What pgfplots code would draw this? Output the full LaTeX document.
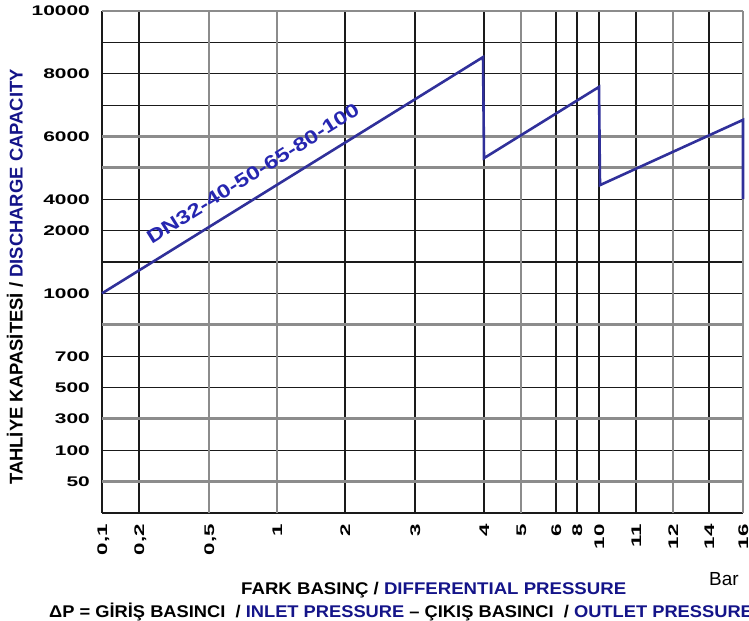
\documentclass[border=0pt]{standalone}
\usepackage{pgfplots}
\pgfplotsset{compat=1.18}
\usepackage{fontspec}
\setmainfont{Liberation Sans}
\definecolor{navy}{HTML}{141489}
\definecolor{dnblue}{HTML}{2626B0}
\definecolor{curve}{HTML}{30309A}
\definecolor{gridgray}{HTML}{8C8C8C}
\definecolor{gridblack}{HTML}{1A1A1A}
% wide tick digits as in the scan
\newcommand\yl[1]{\scalebox{1.5}[1]{#1}}
\newcommand\xl[1]{\scalebox{1.6}[1]{#1}}
\begin{document}
\begin{tikzpicture}[x=1bp,y=1bp]
\begin{axis}[
  at={(102bp,108bp)}, anchor=south west,
  scale only axis, width=641bp, height=502bp,
  xmin=0, xmax=641, ymin=0, ymax=16,
  clip=false,
  axis line style={draw=none},
  major tick length=0pt,
  grid=major,
  major grid style={gridblack, line width=1.2bp},
  tick label style={font=\fontsize{14}{14}\selectfont\bfseries},
  % x = position along the (non-uniform) pressure scale
  xtick={0,37,243,313,382,454,475,497,534,607},
  xticklabels={\xl{0{,}1},\xl{0{,}2},\xl{2},\xl{3},\xl{4},\xl{6},\xl{8},\xl{10},\xl{11},\xl{14}},
  extra x ticks={107,175,419,571,641},
  extra x tick labels={\xl{0{,}5},\xl{1},\xl{5},\xl{12},\xl{16}},
  extra x tick style={grid=major, major grid style={gridgray, line width=2.8bp}},
  xticklabel style={rotate=90, anchor=east, inner xsep=11bp, text height=10bp, text depth=0bp},
  % y = grid row of the capacity scale
  ytick={0,2,4,5,7,8,9,10,13,14,15},
  yticklabels={,\yl{100},\yl{500},\yl{700},\yl{1000},,\yl{2000},\yl{4000},,\yl{8000},},
  extra y ticks={1,3,6,11,12,16},
  extra y tick labels={\yl{50},\yl{300},,,\yl{6000},\yl{10000}},
  extra y tick style={grid=major, major grid style={gridgray, line width=2.8bp}},
  yticklabel style={anchor=east, inner xsep=12bp, text height=10bp, text depth=0bp},
]
\addplot[curve, line width=2.6bp, mark=none] coordinates {
  (0,7.0) (381,14.53) (382,11.31) (497,13.58) (498,10.45) (641,12.53) (641,10.0)};
\end{axis}
\node[rotate=32, text=dnblue, inner sep=0pt, font=\fontsize{19}{19}\selectfont\bfseries]
  at (253,447.5) {\scalebox{1.26}[1]{DN32-40-50-65-80-100}};
\node[rotate=90, anchor=base, inner sep=0pt, font=\fontsize{18.5}{18.5}\selectfont\bfseries]
  at (22.5,344) {TAHLİYE KAPASİTESİ / \textcolor{navy}{DISCHARGE CAPACITY}};
\node[anchor=base west, inner sep=0pt, font=\fontsize{17}{17}\selectfont\bfseries]
  at (241,26) {\scalebox{1.1}[1]{FARK BASINÇ / \textcolor{navy}{DIFFERENTIAL PRESSURE}}};
\node[anchor=base west, inner sep=0pt, font=\fontsize{17}{17}\selectfont\bfseries]
  at (49,3) {\scalebox{1.08}[1]{ΔP = GİRİŞ BASINCI \ / \textcolor{navy}{INLET PRESSURE} – ÇIKIŞ BASINCI \ / \textcolor{navy}{OUTLET PRESSURE}}};
\node[anchor=base west, inner sep=0pt, font=\fontsize{19}{19}\selectfont]
  at (709,35) {Bar};
\pgfresetboundingbox
\path[use as bounding box] (0,0) rectangle (749,621);
\end{tikzpicture}
\end{document}
